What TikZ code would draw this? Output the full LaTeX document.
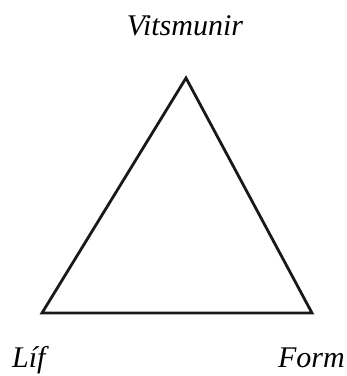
\documentclass[tikz,border=0pt]{standalone}
\usepackage{fontspec}
\setmainfont{Liberation Serif}
\begin{document}
\begin{tikzpicture}[x=1pt,y=1pt,
  lbl/.style={font=\fontsize{30}{34}\selectfont\itshape, inner sep=0pt},
  edge/.style={line width=2.8pt, line join=miter, black!90}]
\useasboundingbox (0,0) rectangle (347,376);
\coordinate (top) at (186,298);
\coordinate (bl) at (42,63);
\coordinate (br) at (312,63);
\draw[edge] (top) -- (bl) -- (br) -- cycle;
\node[lbl, anchor=base] (v) at (185,341) {Vitsmunir};
\node[lbl, anchor=base west] (l) at (12,9) {Líf};
\node[lbl, anchor=base east] (f) at (345,9) {Form};
\end{tikzpicture}
\end{document}
